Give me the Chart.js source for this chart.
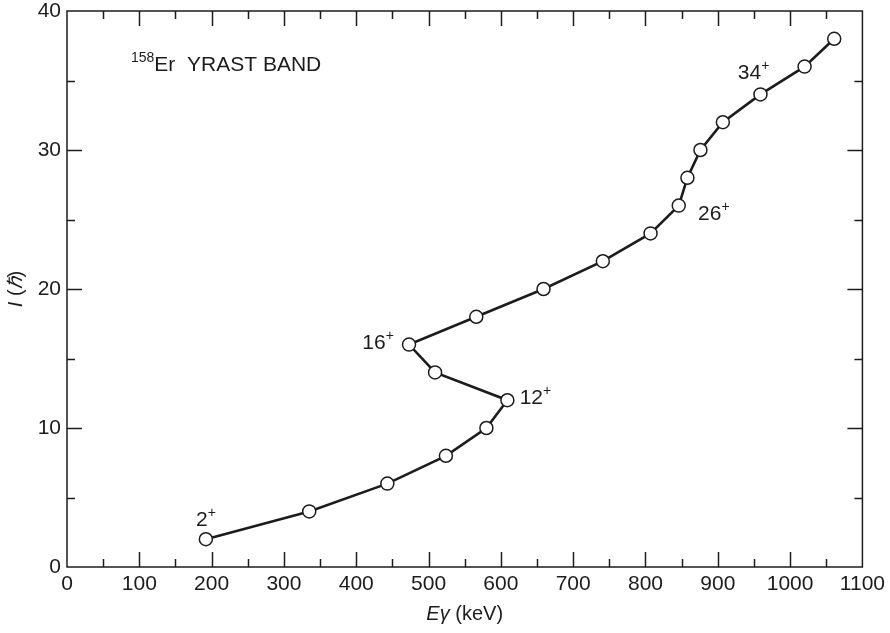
<!DOCTYPE html>
<html>
<head>
<meta charset="utf-8">
<script src="https://cdn.jsdelivr.net/npm/chart.js@4"></script>
<style>
  html, body { margin: 0; padding: 0; background: #fff; }
  #wrap { width: 890px; height: 633px; }
</style>
</head>
<body>
<div id="wrap"><canvas id="chart" width="890" height="633"></canvas></div>
<script>
// gamma-ray energies (keV) and spins of the yrast band
const energies = [192, 335, 443, 524, 580, 609, 509, 473, 566, 659, 741, 807, 846, 858, 876, 907, 959, 1020, 1061]
const spins = [2, 4, 6, 8, 10, 12, 14, 16, 18, 20, 22, 24, 26, 28, 30, 32, 34, 36, 38]

// spin labels: [energy, spin, text, dx, dy]
const stateLabels = [
    [192, 2, '2', -4, -21],
    [473, 16, '16', -35, -3],
    [609, 12, '12', 24, -4],
    [846, 26, '26', 31, 7],
    [959, 34, '34', -11, -23],
]

const xTicks = { min: 0, max: 1100, major: 100, minor: 50 }
const yTicks = { min: 0, max: 40, major: 10, minor: 5 }

const ink = '#1c1c1c'
const fontFamily = '"Liberation Sans", Arial, Helvetica, sans-serif'
const textSize = 21

const points = energies.map((e, i) => ({ x: e, y: spins[i] }))

// inside ticks on all four sides plus the frame
const frameTicks = {
    id: 'frameTicks',
    afterDraw(chart) {
        const { ctx, chartArea: a, scales } = chart
        const x = scales.x, y = scales.y
        ctx.save()
        ctx.strokeStyle = ink
        ctx.lineWidth = 1.5
        ctx.strokeRect(a.left, a.top, a.right - a.left, a.bottom - a.top)
        ctx.beginPath()
        for (let v = xTicks.min + xTicks.minor; v < xTicks.max; v += xTicks.minor) {
            const len = v % xTicks.major === 0 ? 15 : 8
            const px = Math.round(x.getPixelForValue(v)) + 0.5
            ctx.moveTo(px, a.bottom); ctx.lineTo(px, a.bottom - len)
            ctx.moveTo(px, a.top); ctx.lineTo(px, a.top + len)
        }
        for (let v = yTicks.min + yTicks.minor; v < yTicks.max; v += yTicks.minor) {
            const len = v % yTicks.major === 0 ? 15 : 8
            const py = Math.round(y.getPixelForValue(v)) + 0.5
            ctx.moveTo(a.left, py); ctx.lineTo(a.left + len, py)
            ctx.moveTo(a.right, py); ctx.lineTo(a.right - len, py)
        }
        ctx.stroke()
        ctx.restore()
    },
}

// draws a run of [text, style] pieces; style: 'n' normal, 'i' italic, 's' superscript
function drawRuns(ctx, runs, x, y, size, align) {
    const fontFor = s => (s === 'i' ? 'italic ' : '') + (s === 's' ? Math.round(size * 0.68) : size) + 'px ' + fontFamily
    let total = 0
    runs.forEach(([t, s]) => { ctx.font = fontFor(s); total += ctx.measureText(t).width })
    let cx = align === 'center' ? x - total / 2 : align === 'right' ? x - total : x
    ctx.textAlign = 'left'
    ctx.textBaseline = 'alphabetic'
    runs.forEach(([t, s]) => {
        ctx.font = fontFor(s)
        ctx.fillText(t, cx, s === 's' ? y - size * 0.42 : y)
        cx += ctx.measureText(t).width
    })
}

const annotations = {
    id: 'annotations',
    afterDraw(chart) {
        const { ctx, chartArea: a, scales } = chart
        ctx.save()
        ctx.fillStyle = ink
        // axis titles
        drawRuns(ctx, [['E', 'i'], ['γ', 'i'], [' (keV)', 'n']], (a.left + a.right) / 2, 620, 20, 'center')
        ctx.save()
        ctx.translate(22, (a.top + a.bottom) / 2)
        ctx.rotate(-Math.PI / 2)
        drawRuns(ctx, [['I', 'i'], [' (', 'n'], ['ℏ', 'i'], [')', 'n']], 0, 0, 20, 'center')
        ctx.restore()
        // title inside the plot
        drawRuns(ctx, [['158', 's'], ['Er  YRAST BAND', 'n']], 131, 71, textSize, 'left')
        // spin labels
        stateLabels.forEach(([e, s, t, dx, dy]) => {
            const px = scales.x.getPixelForValue(e) + dx
            const py = scales.y.getPixelForValue(s) + dy
            ctx.font = textSize + 'px ' + fontFamily
            const w = ctx.measureText(t).width
            drawRuns(ctx, [[t, 'n'], ['+', 's']], px - w / 2, py + 7.5, textSize, 'left')
        })
        ctx.restore()
    },
}

new Chart(document.getElementById('chart'), {
    type: 'scatter',
    data: {
        datasets: [
            {
                label: '158Er yrast band',
                data: points,
                showLine: true,
                borderColor: ink,
                borderWidth: 2.6,
                pointRadius: 6.5,
                pointHoverRadius: 6.5,
                pointBackgroundColor: '#fff',
                pointBorderColor: ink,
                pointBorderWidth: 1.5,
            },
        ],
    },
    options: {
        responsive: false,
        animation: false,
        layout: { autoPadding: false, padding: { top: 0, right: 24, left: 0, bottom: 0 } },
        plugins: { legend: { display: false }, tooltip: { enabled: false } },
        scales: {
            x: {
                type: 'linear',
                min: xTicks.min,
                max: xTicks.max,
                grid: { display: false, drawTicks: false },
                border: { display: false },
                ticks: {
                    stepSize: xTicks.major,
                    padding: 5,
                    color: ink,
                    font: { family: fontFamily, size: textSize },
                    callback: v => String(v),
                },
                afterFit(scale) { scale.height = 66 },
            },
            y: {
                type: 'linear',
                min: yTicks.min,
                max: yTicks.max,
                grid: { display: false, drawTicks: false },
                border: { display: false },
                ticks: {
                    stepSize: yTicks.major,
                    padding: 6,
                    color: ink,
                    font: { family: fontFamily, size: textSize },
                    callback: v => String(v),
                },
                afterFit(scale) {
                    scale.width = 67
                    scale.paddingTop = 11
                    scale.paddingBottom = 0
                },
            },
        },
    },
    plugins: [frameTicks, annotations],
})
</script>
</body>
</html>
